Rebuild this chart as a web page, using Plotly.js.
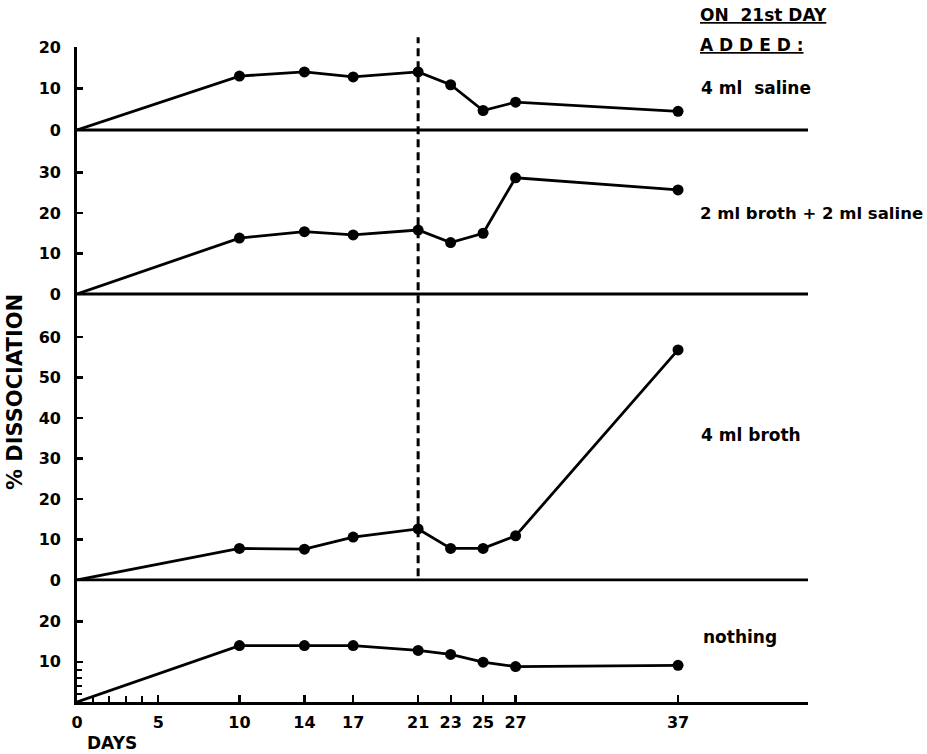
<!DOCTYPE html>
<html>
<head>
<meta charset="utf-8">
<script src="https://cdn.plot.ly/plotly-3.0.1.min.js"></script>
<style>html,body{margin:0;padding:0;background:#fff;}#chart{width:927px;height:754px;}</style>
</head>
<body>
<div id="chart"></div>
<script>
// Days of measurement
const days = [0, 10, 14, 17, 21, 23, 25, 27, 37];
// % dissociation for each treatment added on 21st day
const saline4 = [0, 13.0, 14.0, 12.8, 14.0, 10.9, 4.7, 6.7, 4.5];
const brothSaline = [0, 13.8, 15.4, 14.6, 15.8, 12.7, 15.0, 28.7, 25.7];
const broth4 = [0, 7.8, 7.6, 10.6, 12.6, 7.8, 7.8, 10.9, 56.8];
const nothing = [0, 14.0, 14.0, 14.0, 12.8, 11.8, 9.9, 8.8, 9.1];
// Tick labels
const xTickVals = [0, 5, 10, 14, 17, 21, 23, 25, 27, 37];
const xTickText = ['0', '5', '10', '14', '17', '21', '23', '25', '27', '37'];
const xMinorVals = [1, 2, 3, 4];
const panelLabels = ['4 ml  saline', '2 ml broth + 2 ml saline', '4 ml broth', 'nothing'];
const additionDay = 21;

const FONT = 'DejaVu Sans, Liberation Sans, sans-serif';
const LW = 2.8;
const lineStyle = {color: '#000', width: LW};
// no dot at the origin point
const markerStyle = {color: '#000', opacity: 1, line: {width: 0, color: '#000'},
  size: days.map(d => d === 0 ? 0 : 11)};

function tr(y, ya) {
  return {x: days, y: y, yaxis: ya, xaxis: 'x', type: 'scatter', mode: 'lines+markers',
    line: lineStyle, marker: markerStyle, cliponaxis: false, hoverinfo: 'skip'};
}

const data = [
  tr(nothing, 'y'),
  tr(broth4, 'y2'),
  tr(brothSaline, 'y3'),
  tr(saline4, 'y4')
];

const dom = {p4: [0, 0.1863], p3: [0.1863, 0.6229], p2: [0.6229, 0.8733], p1: [0.8733, 1]};

const yCommon = {
  showline: true, linecolor: '#000', linewidth: LW,
  ticks: 'inside', ticklen: 6, tickwidth: 2.2, tickcolor: '#000',
  showgrid: false, zeroline: false, fixedrange: true,
  tickfont: {family: FONT, size: 16, color: '#000', weight: 'bold'},
  ticklabelstandoff: 10, tickmode: 'array'
};

function zeroLine(yp) {
  return {type: 'line', xref: 'x', yref: 'paper', x0: 0, x1: 45, y0: yp, y1: yp, line: {color: '#000', width: LW}};
}

const layout = {
  width: 927, height: 754,
  margin: {l: 77, r: 119, t: 47, b: 52},
  paper_bgcolor: '#fff', plot_bgcolor: '#fff',
  showlegend: false,
  font: {family: FONT, color: '#000'},
  xaxis: {
    range: [0, 45], anchor: 'y',
    showline: true, linecolor: '#000', linewidth: LW,
    ticks: 'inside', ticklen: 7, tickwidth: 2.2, tickcolor: '#000',
    tickmode: 'array', tickvals: xTickVals, ticktext: xTickText,
    minor: {tickmode: 'array', tickvals: xMinorVals, ticks: 'inside', ticklen: 6, tickwidth: 2, tickcolor: '#000'},
    tickfont: {family: FONT, size: 16, color: '#000', weight: 'bold'},
    ticklabelstandoff: 4,
    showgrid: false, zeroline: false, fixedrange: true
  },
  yaxis: Object.assign({}, yCommon, {domain: dom.p4, range: [0, 30.3],
    tickvals: [10, 20],
    minor: {tickmode: 'array', tickvals: [2, 4, 6, 8], ticks: 'inside', ticklen: 5, tickwidth: 2, tickcolor: '#000'}}),
  yaxis2: Object.assign({}, yCommon, {domain: dom.p3, range: [0, 70.6], anchor: 'x',
    tickvals: [0, 10, 20, 30, 40, 50, 60]}),
  yaxis3: Object.assign({}, yCommon, {domain: dom.p2, range: [0, 40.5], anchor: 'x',
    tickvals: [0, 10, 20, 30]}),
  yaxis4: Object.assign({}, yCommon, {domain: dom.p1, range: [0, 20], anchor: 'x',
    tickvals: [0, 10, 20]}),
  shapes: [
    zeroLine(dom.p3[0]),
    zeroLine(dom.p2[0]),
    zeroLine(dom.p1[0]),
    {type: 'line', xref: 'x', yref: 'paper', x0: additionDay, x1: additionDay, y0: 0.192, y1: 1.015,
      line: {color: '#000', width: 3, dash: '8px,5px'}}
  ],
  annotations: [
    {xref: 'x', yref: 'paper', x: 38.2, y: 1.049, xanchor: 'left', yanchor: 'middle', showarrow: false,
      text: '<u>ON  21st DAY</u>', font: {family: FONT, size: 17, color: '#000', weight: 'bold'}},
    {xref: 'x', yref: 'paper', x: 38.2, y: 1.003, xanchor: 'left', yanchor: 'middle', showarrow: false,
      text: '<u>A D D E D :</u>', font: {family: FONT, size: 17, color: '#000', weight: 'bold'}},
    {xref: 'x', yref: 'y4', x: 38.3, y: 10.1, xanchor: 'left', yanchor: 'middle', showarrow: false,
      text: panelLabels[0], font: {family: FONT, size: 17, color: '#000', weight: 'bold'}},
    {xref: 'x', yref: 'y3', x: 38.2, y: 20, xanchor: 'left', yanchor: 'middle', showarrow: false,
      text: panelLabels[1], font: {family: FONT, size: 16.5, color: '#000', weight: 'bold'}},
    {xref: 'x', yref: 'y2', x: 38.3, y: 35.8, xanchor: 'left', yanchor: 'middle', showarrow: false,
      text: panelLabels[2], font: {family: FONT, size: 17, color: '#000', weight: 'bold'}},
    {xref: 'x', yref: 'y', x: 38.4, y: 16.2, xanchor: 'left', yanchor: 'middle', showarrow: false,
      text: panelLabels[3], font: {family: FONT, size: 17, color: '#000', weight: 'bold'}},
    {xref: 'paper', yref: 'paper', x: -0.085, y: 0.473, xanchor: 'center', yanchor: 'middle', showarrow: false,
      textangle: -90, text: '% DISSOCIATION', font: {family: FONT, size: 21, color: '#000', weight: 'bold'}},
    {xref: 'paper', yref: 'paper', x: 0.011, y: -0.063, xanchor: 'left', yanchor: 'middle', showarrow: false,
      text: 'DAYS', font: {family: FONT, size: 17, color: '#000', weight: 'bold'}}
  ]
};

Plotly.newPlot('chart', data, layout, {staticPlot: true, displayModeBar: false});
</script>
</body>
</html>
